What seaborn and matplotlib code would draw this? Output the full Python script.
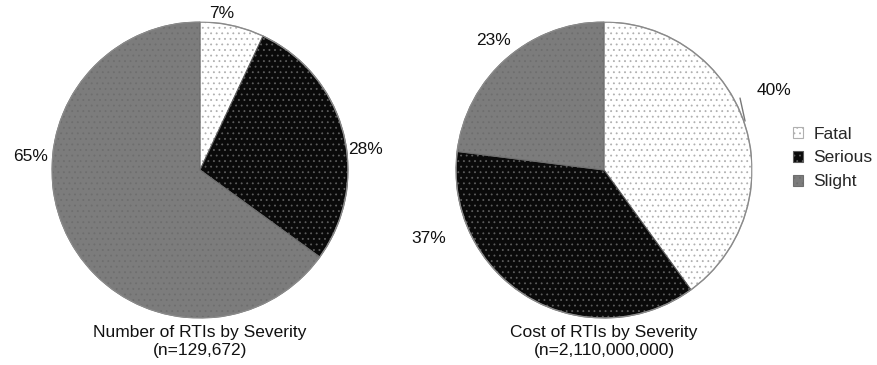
import matplotlib.pyplot as plt
import numpy as np
import seaborn as sns

sns.set_theme(style="white")
plt.rcParams['font.family'] = ['Liberation Sans', 'DejaVu Sans']
plt.rcParams['hatch.linewidth'] = 0.6

severity = ["Fatal", "Serious", "Slight"]
count_share = [7, 28, 65]
cost_share = [40, 37, 23]
titles = ["Number of RTIs by Severity\n(n=129,672)",
          "Cost of RTIs by Severity\n(n=2,110,000,000)"]

face = ["#ffffff", "#0a0a0a", "#7c7c7c"]
hatch_col = ["#b0b0b0", "#5c5c5c", "#6e6e6e"]

# label placement (angle in degrees, distance in radii) tweaked per slice
label_pos = [
    [(82, 1.07), (7, 1.13), (175.5, 1.15)],
    [(25, 1.27), (201.5, 1.27), (130.7, 1.15)],
]

fig = plt.figure(figsize=(8.77, 3.65), dpi=100)
W, H = 877, 365
axes_px = [(52, 47, 296, 296), (456, 47, 296, 296)]

for k, (vals, title) in enumerate(zip([count_share, cost_share], titles)):
    l, b, w, h = axes_px[k]
    ax = fig.add_axes([l / W, b / H, w / W, h / H])
    wedges, _ = ax.pie(vals, startangle=90, counterclock=False, radius=1,
                       wedgeprops=dict(linewidth=0.8))
    for i, wd in enumerate(wedges):
        wd.set_facecolor(face[i])
        wd.set_edgecolor(hatch_col[i])
        wd.set_hatch("...")
    # outer rim
    ax.add_patch(plt.Circle((0, 0), 1, fill=False, ec="#8a8a8a", lw=1.0))
    for v, (ang, dist) in zip(vals, label_pos[k]):
        a = np.deg2rad(ang)
        ax.text(dist * np.cos(a), dist * np.sin(a), f"{v}%", ha="center",
                va="center", fontsize=12.5, color="#111111", clip_on=False)
    ax.set_xlim(-1, 1)
    ax.set_ylim(-1, 1)
    ax.set_aspect("equal")
    ax.axis("off")
    fig.text((l + w / 2) / W, 24 / H, title, ha="center", va="center",
             fontsize=12.5, color="#111111", linespacing=1.25)
    if k == 1:
        ax.plot([0.919, 0.953], [0.486, 0.331], color="#777777", lw=1.0)
        leg = fig.legend(wedges, severity, loc="center left",
                         bbox_to_anchor=(784 / W, 207 / H), frameon=False,
                         fontsize=12.5, handlelength=0.6, handleheight=0.6,
                         handletextpad=0.6, labelspacing=0.5,
                         borderpad=0)

fig.savefig("out.png", dpi=100)
